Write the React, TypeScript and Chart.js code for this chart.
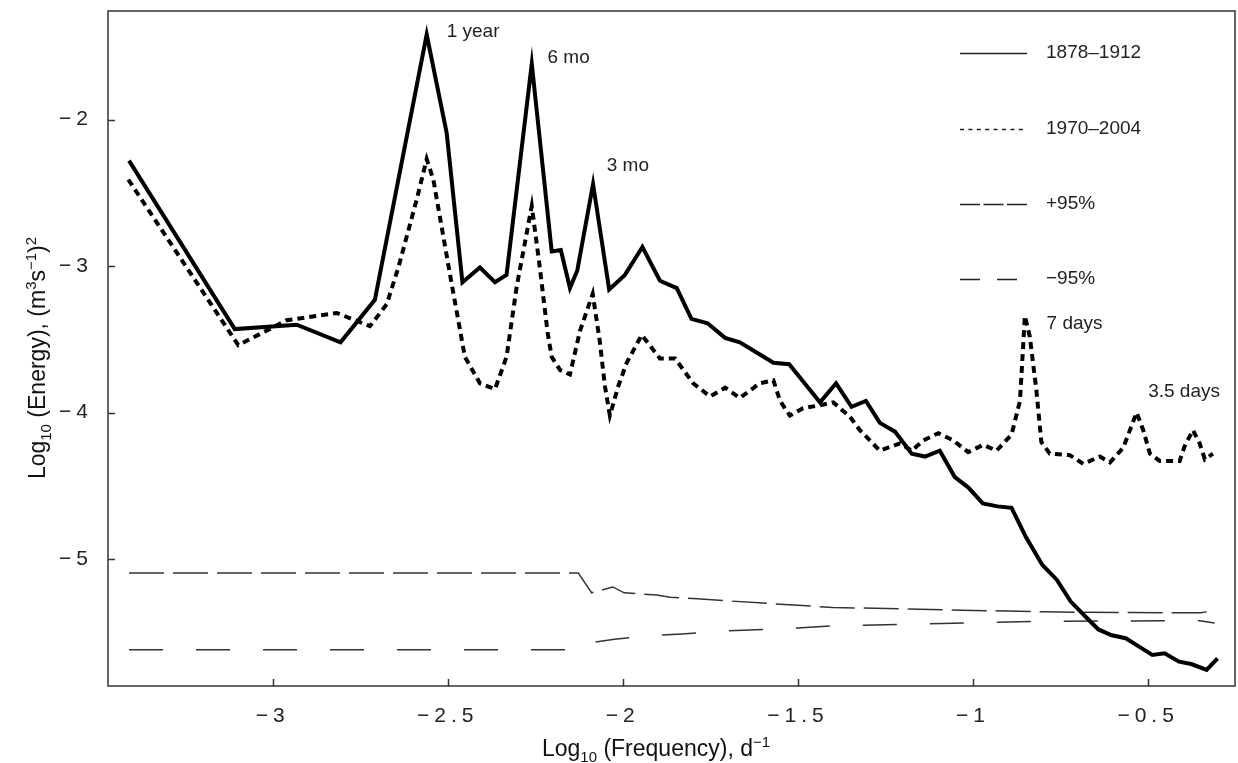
import React, { useEffect, useRef } from 'react';
import { Chart, registerables } from 'chart.js';

Chart.register(...registerables);

// Axis ranges and ticks (log10 units)
const X_MIN = -3.47;
const X_MAX = -0.252;
const Y_MIN = -5.866;
const Y_MAX = -1.259;
const xTickValues = [-3, -2.5, -2, -1.5, -1, -0.5];
const yTickValues = [-5, -4, -3, -2];

// 1878–1912 spectrum
const freqA = [
  -3.41, -3.108, -2.931, -2.806, -2.708, -2.56, -2.503, -2.458, -2.408, -2.365,
  -2.332, -2.26, -2.203, -2.177, -2.151, -2.13, -2.085, -2.039, -1.994, -1.944,
  -1.894, -1.846, -1.804, -1.758, -1.708, -1.666, -1.618, -1.57, -1.525, -1.481,
  -1.437, -1.391, -1.347, -1.306, -1.266, -1.223, -1.175, -1.137, -1.095, -1.052,
  -1.014, -0.972, -0.93, -0.89, -0.849, -0.802, -0.761, -0.721, -0.682, -0.642,
  -0.604, -0.564, -0.526, -0.488, -0.453, -0.412, -0.377, -0.333, -0.302,
];
const energyA = [
  -2.28, -3.43, -3.4, -3.52, -3.23, -1.42, -2.09, -3.11, -3.01, -3.11,
  -3.06, -1.62, -2.9, -2.89, -3.15, -3.03, -2.44, -3.16, -3.06, -2.87,
  -3.1, -3.15, -3.36, -3.39, -3.49, -3.52, -3.59, -3.66, -3.67, -3.8,
  -3.93, -3.8, -3.96, -3.92, -4.07, -4.13, -4.28, -4.3, -4.26, -4.44,
  -4.51, -4.62, -4.64, -4.65, -4.85, -5.04, -5.14, -5.29, -5.385, -5.48,
  -5.52, -5.54, -5.597, -5.654, -5.643, -5.7, -5.716, -5.756, -5.677,
];

// 1970–2004 spectrum
const freqB = [
  -3.412, -3.098, -2.96, -2.817, -2.722, -2.674, -2.641, -2.589, -2.56, -2.541,
  -2.494, -2.451, -2.408, -2.365, -2.332, -2.303, -2.26, -2.237, -2.215, -2.203,
  -2.179, -2.151, -2.122, -2.086, -2.066, -2.051, -2.037, -2.013, -1.989, -1.946,
  -1.894, -1.851, -1.799, -1.751, -1.708, -1.666, -1.609, -1.57, -1.551, -1.523,
  -1.485, -1.437, -1.399, -1.351, -1.323, -1.266, -1.209, -1.175, -1.142, -1.099,
  -1.056, -1.014, -0.971, -0.933, -0.89, -0.866, -0.852, -0.838, -0.819, -0.805,
  -0.781, -0.724, -0.685, -0.638, -0.609, -0.571, -0.533, -0.514, -0.495, -0.467,
  -0.41, -0.396, -0.372, -0.353, -0.338, -0.315,
];
const energyB = [
  -2.41, -3.54, -3.37, -3.32, -3.41, -3.26, -3.01, -2.55, -2.27, -2.41,
  -3.05, -3.62, -3.8, -3.84, -3.62, -3.14, -2.59, -3.01, -3.45, -3.62,
  -3.71, -3.74, -3.44, -3.19, -3.51, -3.82, -4.02, -3.82, -3.66, -3.47,
  -3.63, -3.63, -3.8, -3.89, -3.83, -3.9, -3.8, -3.78, -3.92, -4.02,
  -3.97, -3.95, -3.93, -4.03, -4.12, -4.26, -4.21, -4.26, -4.19, -4.14,
  -4.19, -4.27, -4.22, -4.26, -4.15, -3.92, -3.34, -3.48, -3.85, -4.2,
  -4.28, -4.29, -4.35, -4.3, -4.34, -4.24, -4.0, -4.12, -4.28, -4.33,
  -4.33, -4.23, -4.12, -4.21, -4.32, -4.28,
];

// +95% confidence bound
const freqUp = [
  -3.41, -2.127, -2.089, -2.029, -1.996, -1.903, -1.865, -1.788, -1.7, -1.6,
  -1.5, -1.4, -1.2, -1.0, -0.8, -0.55, -0.35, -0.31,
];
const energyUp = [
  -5.095, -5.095, -5.23, -5.19, -5.23, -5.245, -5.26, -5.27, -5.285, -5.3,
  -5.315, -5.33, -5.34, -5.35, -5.36, -5.365, -5.366, -5.352,
];

// −95% confidence bound
const freqLo = [
  -3.41, -2.127, -2.107, -2.024, -1.925, -1.832, -1.7, -1.6, -1.5, -1.4,
  -1.2, -1.0, -0.8, -0.55, -0.36, -0.31,
];
const energyLo = [
  -5.618, -5.618, -5.575, -5.547, -5.522, -5.511, -5.49, -5.48, -5.47, -5.456,
  -5.445, -5.434, -5.425, -5.422, -5.418, -5.436,
];

const seriesLabels = ['1878–1912', '1970–2004', '+95%', '−95%'];

// Peak annotations (text anchor in data units)
const peakTexts = ['1 year', '6 mo', '3 mo', '7 days', '3.5 days'];
const peakTextX = [-2.503, -2.215, -2.046, -0.79, -0.5];
const peakTextY = [-1.402, -1.577, -2.312, -3.396, -3.858];

const FONT = '"Liberation Sans", Arial, sans-serif';

const toPoints = (xs: number[], ys: number[]) => xs.map((x, i) => ({ x, y: ys[i] }));

const fmtTick = (v: number) => (v < 0 ? '\u2212' : '') + String(Math.abs(v));

type Part = { t: string; k: 'n' | 'sub' | 'sup' };

function drawRich(ctx: CanvasRenderingContext2D, parts: Part[], cx: number, baseY: number, big: number, small: number) {
  const fontFor = (k: string) => `${k === 'n' ? big : small}px ${FONT}`;
  let total = 0;
  parts.forEach((p) => {
    ctx.font = fontFor(p.k);
    total += ctx.measureText(p.t).width;
  });
  let x = cx - total / 2;
  ctx.textAlign = 'left';
  ctx.textBaseline = 'alphabetic';
  parts.forEach((p) => {
    ctx.font = fontFor(p.k);
    const dy = p.k === 'sub' ? 6 : p.k === 'sup' ? -9 : 0;
    ctx.fillText(p.t, x, baseY + dy);
    x += ctx.measureText(p.t).width;
  });
}

const overlayPlugin = {
  id: 'overlay',
  beforeDraw(chart: any) {
    (chart.ctx as any).letterSpacing = '5px';
  },
  beforeDatasetsDraw(chart: any) {
    (chart.ctx as any).letterSpacing = '0px';
  },
  afterDraw(chart: any) {
    const ctx: CanvasRenderingContext2D = chart.ctx;
    const a = chart.chartArea;
    const xs = chart.scales.x;
    const ys = chart.scales.y;
    ctx.save();
    (ctx as any).letterSpacing = '0px';

    // frame
    ctx.setLineDash([]);
    ctx.strokeStyle = '#333';
    ctx.lineWidth = 1.5;
    ctx.strokeRect(a.left, a.top, a.right - a.left, a.bottom - a.top);

    // inward tick marks
    ctx.beginPath();
    xTickValues.forEach((v) => {
      const px = Math.round(xs.getPixelForValue(v)) + 0.5;
      ctx.moveTo(px, a.bottom);
      ctx.lineTo(px, a.bottom - 7);
    });
    yTickValues.forEach((v) => {
      const py = Math.round(ys.getPixelForValue(v)) + 0.5;
      ctx.moveTo(a.left, py);
      ctx.lineTo(a.left + 7, py);
    });
    ctx.stroke();

    // peak annotations
    ctx.fillStyle = '#222';
    ctx.font = `19px ${FONT}`;
    ctx.textAlign = 'left';
    ctx.textBaseline = 'middle';
    peakTexts.forEach((t, i) => {
      ctx.fillText(t, xs.getPixelForValue(peakTextX[i]), ys.getPixelForValue(peakTextY[i]));
    });

    // legend
    const lx0 = 960;
    const lx1 = 1027;
    const rowY = [53, 129, 204, 279];
    const dashes = [[], [4, 4.4], [20, 3.5], [20, 17]];
    const ends = [lx1, lx1, lx1, 1017];
    ctx.strokeStyle = '#222';
    ctx.lineWidth = 1.3;
    rowY.forEach((y, i) => {
      ctx.setLineDash(dashes[i]);
      ctx.beginPath();
      ctx.moveTo(lx0, y + 0.5);
      ctx.lineTo(ends[i], y + 0.5);
      ctx.stroke();
      ctx.fillText(seriesLabels[i], 1046, y);
    });
    ctx.setLineDash([]);

    // axis titles
    ctx.fillStyle = '#111';
    drawRich(
      ctx,
      [
        { t: 'Log', k: 'n' },
        { t: '10', k: 'sub' },
        { t: ' (Frequency), d', k: 'n' },
        { t: '\u22121', k: 'sup' },
      ],
      656,
      756,
      23,
      15
    );
    ctx.save();
    ctx.translate(45, 358);
    ctx.rotate(-Math.PI / 2);
    drawRich(
      ctx,
      [
        { t: 'Log', k: 'n' },
        { t: '10', k: 'sub' },
        { t: ' (Energy), (m', k: 'n' },
        { t: '3', k: 'sup' },
        { t: 's', k: 'n' },
        { t: '\u22121', k: 'sup' },
        { t: ')', k: 'n' },
        { t: '2', k: 'sup' },
      ],
      0,
      0,
      23,
      15
    );
    ctx.restore();
    ctx.restore();
  },
};

export default function App() {
  const canvasRef = useRef<HTMLCanvasElement | null>(null);

  useEffect(() => {
    if (!canvasRef.current) return;
    const chart = new Chart(canvasRef.current, {
      type: 'line',
      data: {
        datasets: [
          {
            label: seriesLabels[0],
            data: toPoints(freqA, energyA),
            borderColor: '#000',
            borderWidth: 4,
            pointRadius: 0,
            tension: 0,
            borderJoinStyle: 'miter',
            fill: false,
          },
          {
            label: seriesLabels[1],
            data: toPoints(freqB, energyB),
            borderColor: '#000',
            borderWidth: 4,
            borderDash: [7, 5],
            pointRadius: 0,
            tension: 0,
            borderJoinStyle: 'miter',
            fill: false,
          },
          {
            label: seriesLabels[2],
            data: toPoints(freqUp, energyUp),
            borderColor: '#333',
            borderWidth: 1.5,
            borderDash: [35, 9],
            pointRadius: 0,
            tension: 0,
            fill: false,
          },
          {
            label: seriesLabels[3],
            data: toPoints(freqLo, energyLo),
            borderColor: '#333',
            borderWidth: 1.5,
            borderDash: [34, 33],
            pointRadius: 0,
            tension: 0,
            fill: false,
          },
        ],
      },
      options: {
        animation: false,
        responsive: true,
        maintainAspectRatio: false,
        layout: { padding: { left: 0, top: 11, right: 3, bottom: 0 } },
        plugins: {
          legend: { display: false },
          tooltip: { enabled: false },
          title: { display: false },
        },
        scales: {
          x: {
            type: 'linear',
            min: X_MIN,
            max: X_MAX,
            grid: { display: false },
            border: { display: false },
            afterBuildTicks: (s: any) => {
              s.ticks = xTickValues.map((v) => ({ value: v }));
            },
            afterFit: (s: any) => {
              s.height = 77;
              s.paddingLeft = 0;
              s.paddingRight = 0;
            },
            ticks: {
              autoSkip: false,
              maxRotation: 0,
              padding: 10,
              color: '#222',
              font: { family: FONT, size: 21 },
              callback: (v: any) => fmtTick(Number(v)),
            },
          },
          y: {
            type: 'linear',
            min: Y_MIN,
            max: Y_MAX,
            grid: { display: false },
            border: { display: false },
            afterBuildTicks: (s: any) => {
              s.ticks = yTickValues.map((v) => ({ value: v }));
            },
            afterFit: (s: any) => {
              s.width = 108;
              s.paddingTop = 0;
              s.paddingBottom = 0;
            },
            ticks: {
              autoSkip: false,
              padding: 7,
              color: '#222',
              font: { family: FONT, size: 21 },
              callback: (v: any) => fmtTick(Number(v)),
            },
          },
        },
      },
      plugins: [overlayPlugin],
    } as any);
    return () => chart.destroy();
  }, []);

  return (
    <div style={{ position: 'absolute', left: 0, top: 0, width: 1238, height: 763, background: '#fff' }}>
      <canvas ref={canvasRef} />
    </div>
  );
}
